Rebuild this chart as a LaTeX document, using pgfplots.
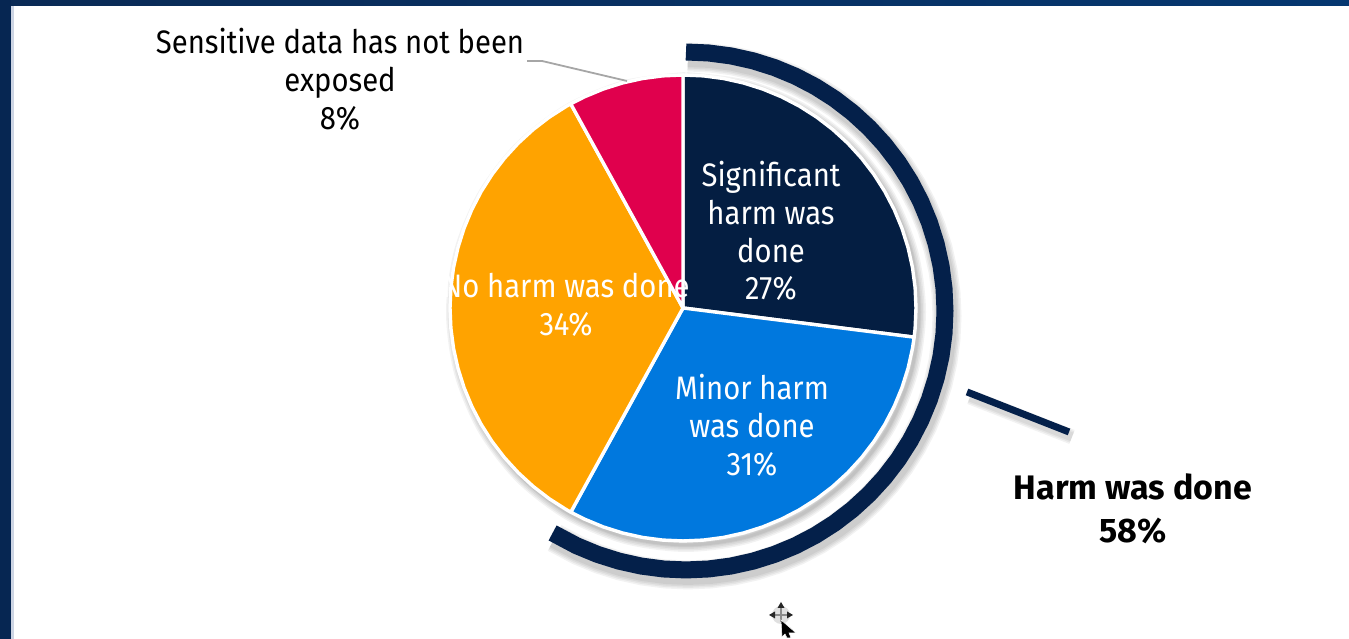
\documentclass[border=0pt]{standalone}
\usepackage{pgfplots}
\pgfplotsset{compat=1.18}
\usepackage{pgfplotstable}
\usepackage{fontspec}
\setmainfont[FakeStretch=0.9]{Fira Sans}
\newfontfamily\calloutfont[FakeStretch=1.0]{Fira Sans}
\definecolor{navy}{HTML}{041E42}
\definecolor{ringnavy}{HTML}{04204A}
\definecolor{azure}{HTML}{0078DE}
\definecolor{amber}{HTML}{FFA300}
\definecolor{crimson}{HTML}{E0004D}
\definecolor{frameA}{RGB}{10,42,85}
\definecolor{frameB}{RGB}{5,55,112}
\definecolor{frameL}{RGB}{6,38,82}
\definecolor{frameE}{RGB}{205,213,228}
% outline of the whole pie, used for its soft shadow
\pgfplotstableread{
a r
90 233
75 233
60 233
45 233
30 233
15 233
0 233
-15 233
-30 233
-45 233
-60 233
-75 233
-90 233
-105 233
-120 233
-135 233
-150 233
-165 233
-180 233
-195 233
-210 233
-225 233
-240 233
-255 233
-270 233
}\pieoutline
% bracket arc around the two harm slices
\pgfplotstableread{
a r
90 259
85 259
80 259
75 259
70 259
65 259
60 259
55 259
50 259
45 259
40 259
35 259
30 259
25 259
20 259
15 259
10 259
5 259
0 259
-5 259
-10 259
-15 259
-20 259
-25 259
-30 259
-35 259
-40 259
-45 259
-50 259
-55 259
-60 259
-65 259
-70 259
-75 259
-80 259
-85 259
-90 259
-95 259
-100 259
-105 259
-110 259
-115 259
-121 259
}\ringarc
\newcommand{\lab}[3]{\node[anchor=base,text=#1,font=\fontsize{32.5}{38}\selectfont] at (axis cs:#2) {#3};}
\newcommand{\callout}[2]{\node[anchor=base,text=black,font=\fontsize{34}{42}\selectfont\calloutfont\bfseries] at (axis cs:#1) {#2};}
\begin{document}
\begin{tikzpicture}
\begin{axis}[
  width=1349pt, height=639pt, scale only axis, hide axis,
  xmin=-683, xmax=666, ymin=-331, ymax=308,
  clip=true,
]
% page frame
\fill[white] (axis cs:-683,-331) rectangle (axis cs:666,308);
\shade[left color=frameA, right color=frameB]
  (axis cs:-683,308) rectangle (axis cs:666,302);
\fill[frameL] (axis cs:-683,-331) rectangle (axis cs:-672,308);
\fill[frameE] (axis cs:-672,-331) rectangle (axis cs:-669,302);

% soft shadows of the pie
\pgfplotsinvokeforeach{14,11,8,5,3}{
  \addplot[draw=black, draw opacity=0.05, line width=#1pt, no marks, smooth, xshift=3pt, yshift=-4pt, data cs=polar]
    table[x=a,y=r] {\pieoutline};
}
% soft shadows of the bracket arc and its tick
\pgfplotsinvokeforeach{29,26,23,20}{
  \addplot[draw=black, draw opacity=0.05, line width=#1pt, no marks, xshift=5pt, yshift=-8pt, data cs=polar]
    table[x=a,y=r] {\ringarc};
}
\pgfplotsinvokeforeach{15,12,9}{
  \addplot[draw=black, draw opacity=0.05, line width=#1pt, no marks, xshift=3pt, yshift=-5pt]
    coordinates {(284,-84) (386,-124)};
}

% bracket arc and tick
\addplot[draw=ringnavy, line width=17pt, no marks, xshift=3pt, yshift=-3pt, data cs=polar]
  table[x=a,y=r] {\ringarc};
\addplot[draw=ringnavy, line width=7pt, no marks] coordinates {(284,-84) (386,-124)};

% pie slices: 27%, 31%, 34%, 8%
\addplot[fill=navy, draw=white, line width=3.4pt, line join=round, no marks, data cs=polar] coordinates {
  (0,0) (90,233) (85,233) (80,233) (75,233) (70,233) (65,233) (60,233) (55,233) (50,233) (45,233)
  (40,233) (35,233) (30,233) (25,233) (20,233) (15,233) (10,233) (5,233) (0,233) (-5,233) (-7.2,233)
} -- cycle;
\addplot[fill=azure, draw=white, line width=3.4pt, line join=round, no marks, data cs=polar] coordinates {
  (0,0) (-7.2,233) (-10,233) (-15,233) (-20,233) (-25,233) (-30,233) (-35,233) (-40,233) (-45,233)
  (-50,233) (-55,233) (-60,233) (-65,233) (-70,233) (-75,233) (-80,233) (-85,233) (-90,233) (-95,233)
  (-100,233) (-105,233) (-110,233) (-115,233) (-118.8,233)
} -- cycle;
\addplot[fill=amber, draw=white, line width=3.4pt, line join=round, no marks, data cs=polar] coordinates {
  (0,0) (-118.8,233) (-120,233) (-125,233) (-130,233) (-135,233) (-140,233) (-145,233) (-150,233)
  (-155,233) (-160,233) (-165,233) (-170,233) (-175,233) (-180,233) (-185,233) (-190,233) (-195,233)
  (-200,233) (-205,233) (-210,233) (-215,233) (-220,233) (-225,233) (-230,233) (-235,233) (-240,233) (-241.2,233)
} -- cycle;
\addplot[fill=crimson, draw=white, line width=3.4pt, line join=round, no marks, data cs=polar] coordinates {
  (0,0) (-241.2,233) (-245,233) (-250,233) (-255,233) (-260,233) (-265,233) (-270,233)
} -- cycle;

% leader of the small slice
\addplot[draw=black!35, line width=1.8pt, no marks] coordinates {(-156,247) (-141,247) (-56,227)};

% slice labels
\lab{black}{-343,254}{Sensitive data has not been}
\lab{black}{-343,216}{exposed}
\lab{black}{-343,178}{8\%}
\lab{white}{88,121}{Significant}
\lab{white}{88,83}{harm was}
\lab{white}{88,45}{done}
\lab{white}{88,8}{27\%}
\lab{white}{-117,10}{No harm was done}
\lab{white}{-117,-28}{34\%}
\lab{white}{69,-92}{Minor harm}
\lab{white}{69,-130}{was done}
\lab{white}{69,-168}{31\%}
\callout{450,-192}{Harm was done}
\callout{450,-235}{58\%}

% move-pointer glyph near the bottom edge
\fill[black!12] (axis cs:98,-307) circle[radius=9pt];
\draw[black!45, line width=2.4pt] (axis cs:91,-307) -- (axis cs:105,-307) (axis cs:98,-300) -- (axis cs:98,-314);
\fill[black!85] (axis cs:98,-294) -- (axis cs:94.5,-300) -- (axis cs:101.5,-300) -- cycle;
\fill[black!85] (axis cs:86,-307) -- (axis cs:92,-303.5) -- (axis cs:92,-310.5) -- cycle;
\fill[black!85] (axis cs:110,-307) -- (axis cs:104,-303.5) -- (axis cs:104,-310.5) -- cycle;
\fill[black, draw=white, line width=0.5pt] (axis cs:98,-312) -- (axis cs:113,-325) -- (axis cs:106,-325) -- (axis cs:108,-330) -- (axis cs:104,-330) -- (axis cs:102,-326) -- (axis cs:99,-329) -- cycle;
\end{axis}
\end{tikzpicture}
\end{document}
